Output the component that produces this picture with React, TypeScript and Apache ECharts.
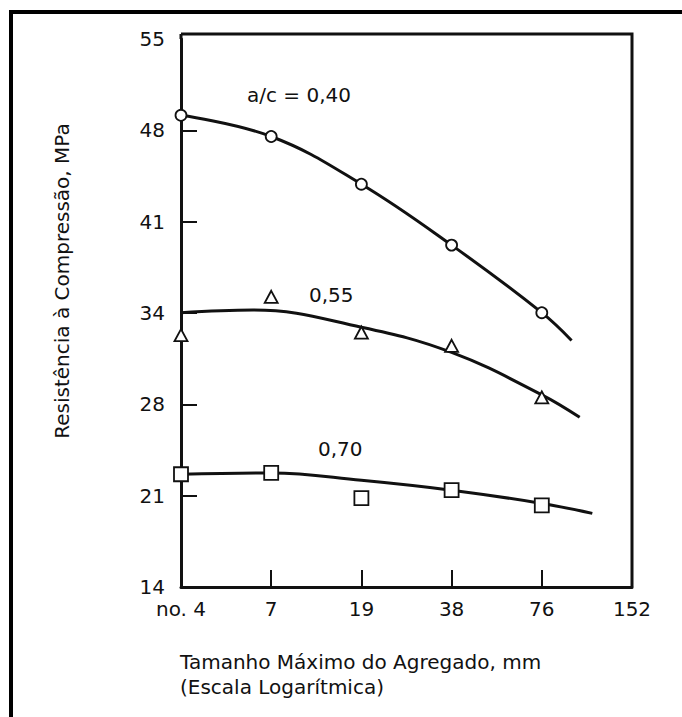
import React, { useEffect, useRef } from "react";
import * as echarts from "echarts";

// Tick labels (y axis ticks are equally spaced: 2..8 ksi expressed in MPa)
const X_TICK_LABELS = ["no. 4", "7", "19", "38", "76", "152"];
const Y_TICK_LABELS = ["14", "21", "28", "34", "41", "48", "55"];
const MPA_PER_KSI = 6.895;

// Measured points (x = step on the log2 size scale, y = MPa)
const POINT_X = [0, 1, 2, 3, 4];
const WC040_POINTS = [49.4, 47.8, 44.2, 39.6, 34.5];
const WC055_POINTS = [32.8, 35.7, 33.0, 32.0, 28.1];
const WC070_POINTS = [22.3, 22.4, 20.5, 21.1, 19.95];

// Fitted curves
const WC040_CURVE_X = [0, 1, 2, 3, 4, 4.33];
const WC040_CURVE_Y = [49.4, 47.8, 44.2, 39.6, 34.5, 32.4];
const WC055_CURVE_X = [0, 0.8, 2, 3, 4, 4.42];
const WC055_CURVE_Y = [34.5, 34.7, 33.4, 31.5, 28.3, 26.6];
const WC070_CURVE_X = [0, 1, 2, 3, 4, 4.56];
const WC070_CURVE_Y = [22.3, 22.4, 21.85, 21.1, 20.1, 19.35];

const CURVE_LABELS = ["a/c = 0,40", "0,55", "0,70"];
const Y_TITLE = "Resistência à Compressão, MPa";
const X_TITLE_1 = "Tamanho Máximo do Agregado, mm";
const X_TITLE_2 = "(Escala Logarítmica)";

const FONT = '"DejaVu Sans", sans-serif';
const INK = "#111";

const toKsi = (v: number) => v / MPA_PER_KSI;
const zip = (xs: number[], ys: number[]) => xs.map((x, i) => [x, toKsi(ys[i])]);

export default function App() {
  const ref = useRef<HTMLDivElement>(null);
  useEffect(() => {
    if (!ref.current) return;
    const chart = echarts.init(ref.current, undefined, { renderer: "svg" });
    const GL = 181, GT = 39, GW = 451, GH = 548;
    const lineSeries = (xs: number[], ys: number[]) => ({
      type: "line",
      data: zip(xs, ys),
      smooth: 0.4,
      showSymbol: false,
      symbol: "none",
      lineStyle: { color: INK, width: 3 },
      z: 2,
      silent: true,
    });
    const pointSeries = (ys: number[], symbol: string, size: any) => ({
      type: "scatter",
      data: zip(POINT_X, ys),
      symbol,
      symbolSize: size,
      itemStyle: { color: "#fff", borderColor: INK, borderWidth: 1.8, opacity: 1 },
      z: 3,
      silent: true,
    });
    const textEl = (text: string, x: number, y: number, extra: any = {}) => ({
      type: "text",
      x,
      y,
      ...extra,
      style: {
        text,
        fill: INK,
        font: `20px ${FONT}`,
        textAlign: extra.align || "left",
        verticalAlign: "middle",
        textVerticalAlign: "middle",
      },
      z: 10,
    });
    chart.setOption({
      animation: false,
      backgroundColor: "#fff",
      grid: { left: GL, top: GT, width: GW, height: GH, containLabel: false },
      xAxis: {
        type: "value",
        min: 0,
        max: 5,
        interval: 1,
        axisLine: { show: true, lineStyle: { color: INK, width: 3 } },
        axisTick: {
          show: true,
          inside: true,
          length: 17,
          lineStyle: { color: INK, width: 2 },
          customValues: [1, 2, 3, 4],
        },
        axisLabel: {
          color: INK,
          fontFamily: FONT,
          fontSize: 20,
          margin: 12,
          formatter: (v: number) => X_TICK_LABELS[Math.round(v)] ?? "",
        },
        splitLine: { show: false },
      },
      yAxis: {
        type: "value",
        min: 2,
        max: 8,
        interval: 1,
        axisLine: { show: true, lineStyle: { color: INK, width: 3 } },
        axisTick: {
          show: true,
          inside: true,
          length: 16,
          lineStyle: { color: INK, width: 2 },
          customValues: [3, 4, 5, 6, 7],
        },
        axisLabel: {
          color: INK,
          fontFamily: FONT,
          fontSize: 20,
          margin: 16,
          formatter: (v: number) => Y_TICK_LABELS[Math.round(v - 2)] ?? "",
        },
        splitLine: { show: false },
      },
      graphic: [
        // outer border of the scanned figure
        { type: "rect", shape: { x: 9, y: 10, width: 673, height: 4 }, style: { fill: "#000" }, z: 20 },
        { type: "rect", shape: { x: 9, y: 10, width: 4, height: 707 }, style: { fill: "#000" }, z: 20 },
        // plot frame (top and right)
        {
          type: "polyline",
          shape: { points: [[GL, GT - 5], [GL + GW, GT - 5], [GL + GW, GT + GH]] },
          style: { stroke: INK, lineWidth: 3, fill: "none" },
          z: 5,
        },
        {
          type: "line",
          shape: { x1: GL, y1: GT - 5, x2: GL, y2: GT },
          style: { stroke: INK, lineWidth: 3 },
          z: 5,
        },
        textEl(CURVE_LABELS[0], 247, 95),
        textEl(CURVE_LABELS[1], 309, 295),
        textEl(CURVE_LABELS[2], 318, 449),
        textEl(Y_TITLE, 62, 281, { rotation: Math.PI / 2, align: "center" }),
        textEl(X_TITLE_1, 180, 662),
        textEl(X_TITLE_2, 180, 687),
      ],
      series: [
        lineSeries(WC040_CURVE_X, WC040_CURVE_Y),
        lineSeries(WC055_CURVE_X, WC055_CURVE_Y),
        lineSeries(WC070_CURVE_X, WC070_CURVE_Y),
        pointSeries(WC040_POINTS, "circle", 11),
        pointSeries(WC055_POINTS, "triangle", [13, 12]),
        pointSeries(WC070_POINTS, "rect", 14),
      ],
    });
    return () => chart.dispose();
  }, []);
  return (
    <div
      ref={ref}
      style={{ position: "absolute", left: 0, top: 0, width: 682, height: 717, background: "#fff" }}
    />
  );
}
